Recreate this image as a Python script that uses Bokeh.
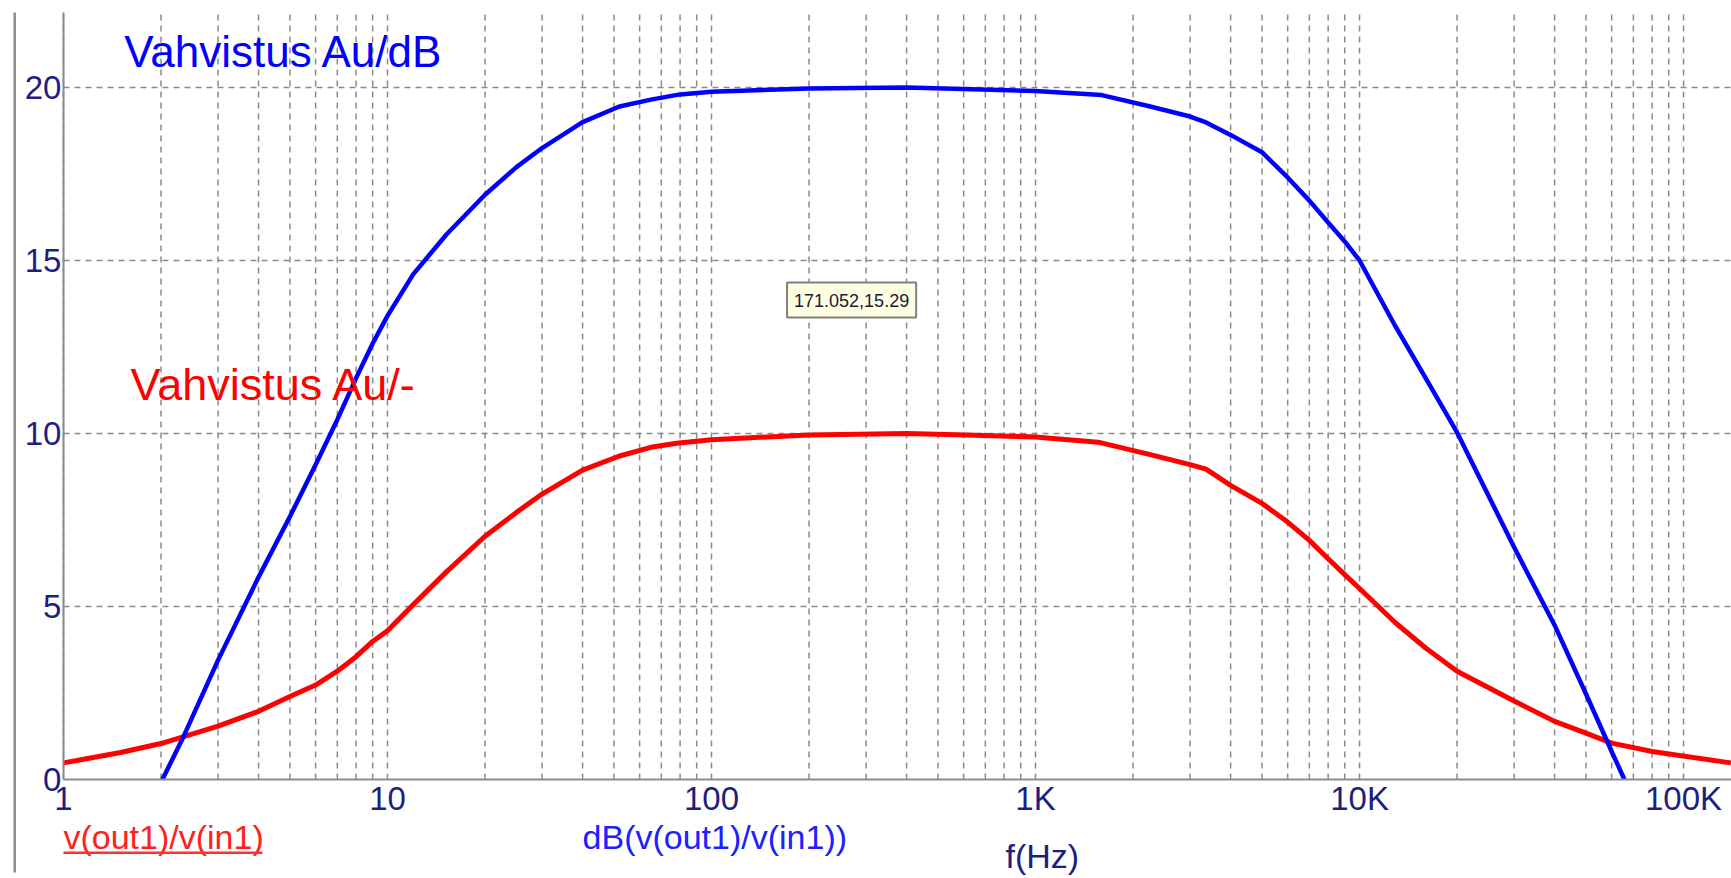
from bokeh.plotting import figure
from bokeh.models import FixedTicker, Label, BoxAnnotation
from bokeh.embed import file_html
from bokeh.resources import INLINE

# ---- data ----
freq_db = [2.02, 2.32, 3, 4, 5, 6, 7, 8, 9, 10, 12, 15.2, 20, 25, 30, 40, 52, 65, 80, 100,
           200, 400, 1000, 1600, 2260, 3000, 3360, 4000, 5000, 6000, 7000, 8000, 9000, 10000,
           12900, 16000, 20000, 30000, 40000, 50000, 60000, 65700]
gain_db = [0.0, 1.14, 3.45, 5.85, 7.6, 9.1, 10.4, 11.6, 12.6, 13.4, 14.6, 15.75, 16.9, 17.7,
           18.25, 19.0, 19.45, 19.65, 19.8, 19.88, 19.97, 20.0, 19.9, 19.78, 19.45, 19.16,
           18.99, 18.63, 18.13, 17.4, 16.73, 16.1, 15.55, 15.0, 13.1, 11.6, 10.03, 6.71,
           4.46, 2.47, 0.81, 0.0]

freq_lin = [1, 1.5, 2, 3, 4, 5, 6, 7, 8, 9, 10, 12, 15.2, 20, 25, 30, 40, 52, 65, 78, 100,
            200, 400, 610, 1000, 1560, 2260, 3000, 3360, 4000, 5000, 6000, 7000, 8000, 9000,
            10000, 12900, 16000, 20000, 30000, 40000, 50000, 60000, 80000, 140000]
gain_lin = [0.48, 0.78, 1.04, 1.54, 1.97, 2.4, 2.73, 3.13, 3.55, 3.99, 4.3, 5.05, 6.0, 7.03,
            7.72, 8.25, 8.94, 9.35, 9.6, 9.72, 9.82, 9.96, 10.0, 9.96, 9.9, 9.75, 9.39, 9.1,
            8.97, 8.5, 7.98, 7.44, 6.91, 6.38, 5.92, 5.52, 4.53, 3.8, 3.13, 2.27, 1.68, 1.34,
            1.05, 0.81, 0.48]

x_major = [1, 10, 100, 1000, 10000, 100000]
x_labels = ["1", "10", "100", "1K", "10K", "100K"]
x_minor_mult = [1, 2, 3, 4, 5, 6, 7, 8, 9]
y_ticks = [0, 5, 10, 15, 20]

title_db = "Vahvistus Au/dB"
title_lin = "Vahvistus Au/-"
legend_lin = "v(out1)/v(in1)"
legend_db = "dB(v(out1)/v(in1))"
x_title = "f(Hz)"
cursor_text = "171.052,15.29"
cursor_x = 171.052

FONT = "Liberation Sans"
NAVY = "#1e1e82"
GRID = "#8a8a8a"

X_LO, X_HI = 0.6392, 1.406e5     # visible x span (canvas edge to edge)
Y_LO, Y_HI = -2.861, 22.514      # visible y span (canvas edge to edge)
X_AX, Y_TOP = 1.0, 22.17         # plot area: axis start and top of plot area

p = figure(width=1731, height=878, x_axis_type="log",
           x_range=(X_LO, X_HI), y_range=(Y_LO, Y_HI),
           output_backend="svg", toolbar_location=None,
           min_border_left=0, min_border_right=0, min_border_top=0, min_border_bottom=0)
p.outline_line_color = None
p.background_fill_color = "white"
p.border_fill_color = "white"
p.xgrid.visible = False
p.ygrid.visible = False

# dashed grid limited to the plot area
grid_x = [m * d for d in x_major for m in x_minor_mult]
grid_y = y_ticks[1:]
p.segment(x0=grid_x, y0=[0] * len(grid_x), x1=grid_x, y1=[Y_TOP] * len(grid_x),
          line_color=GRID, line_width=1.5, line_dash="6 5")
p.segment(x0=[X_AX] * len(grid_y), y0=grid_y, x1=[X_HI] * len(grid_y), y1=grid_y,
          line_color=GRID, line_width=1.5, line_dash="6 5")

# axes, fixed at the origin of the plot area
xa, ya = p.xaxis[0], p.yaxis[0]
xa.fixed_location = 0
ya.fixed_location = X_AX
xa.bounds = (X_AX, X_HI)
ya.bounds = (0, Y_TOP)
for ax in (xa, ya):
    ax.axis_line_color = "#8c8c8c"
    ax.axis_line_width = 2
    ax.major_tick_line_color = None
    ax.minor_tick_line_color = None
    ax.major_tick_out = 0
    ax.major_tick_in = 0
    ax.minor_tick_out = 0
    ax.major_label_text_font = FONT
    ax.major_label_text_font_size = "33px"
    ax.major_label_text_color = NAVY

xa.ticker = FixedTicker(ticks=x_major)
xa.major_label_overrides = {t: s for t, s in zip(x_major, x_labels)}
xa.major_label_standoff = 0
ya.ticker = FixedTicker(ticks=y_ticks)
ya.major_label_standoff = 2

# curves
p.line(freq_lin, gain_lin, line_color="#ff0000", line_width=5, line_join="round")
p.line(freq_db, gain_db, line_color="#0000ff", line_width=4.5, line_join="round")

# titles inside the plot
p.add_layout(Label(x=1.54, y=20.32, text=title_db, text_font=FONT, text_font_size="44px",
                   text_color="#0000ff", text_baseline="bottom"))
p.add_layout(Label(x=1.61, y=10.68, text=title_lin, text_font=FONT, text_font_size="45px",
                   text_color="#ff0000", text_baseline="bottom"))

# cursor tooltip
p.add_layout(Label(x=cursor_x, y=13.35, text=cursor_text, text_font=FONT, text_font_size="18px",
                   text_color="#1a1a3a", text_baseline="bottom",
                   background_fill_color="#ffffe1", border_line_color="#808080",
                   border_line_width=2, padding=(7, 11)))

# legend texts under the axis
p.add_layout(Label(x=1.0, y=-2.197, text=legend_lin, text_font=FONT, text_font_size="34px",
                   text_color="#ff2020", text_baseline="bottom"))
p.add_layout(BoxAnnotation(left=1.0, right=4.11, bottom=-2.153, top=-2.081,
                           fill_color="#ff3030", fill_alpha=1, line_color=None))
p.add_layout(Label(x=40.0, y=-2.197, text=legend_db, text_font=FONT, text_font_size="34px",
                   text_color="#2020ff", text_baseline="bottom"))
p.add_layout(Label(x=808, y=-2.746, text=x_title, text_font=FONT, text_font_size="34px",
                   text_color=NAVY, text_baseline="bottom"))

# outer left frame line
p.add_layout(BoxAnnotation(left=0.7008, right=0.7135, bottom=-2.69, top=Y_TOP,
                           fill_color="#8c8c8c", fill_alpha=1, line_color=None))

open("out.html", "w").write(file_html(p, INLINE))
